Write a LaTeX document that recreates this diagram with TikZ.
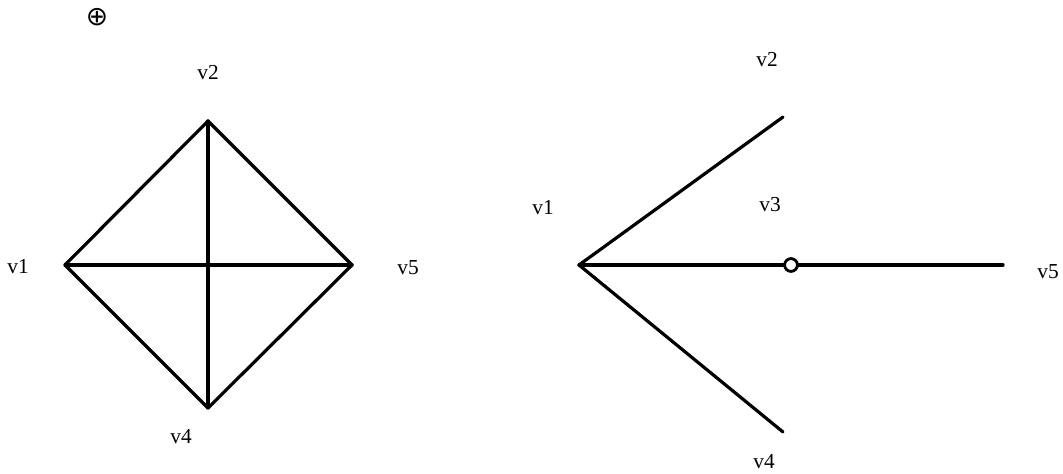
\documentclass[tikz,border=0pt]{standalone}
\usepackage{fontspec}
\setmainfont{Liberation Serif}
\newfontfamily\symfont{DejaVu Sans}
\begin{document}
\begin{tikzpicture}[x=0.75pt,y=-0.75pt,
  edge/.style={line width=2.4pt,line cap=round,line join=round},
  lbl/.style={font=\fontsize{16}{18}\selectfont,inner sep=0pt},
  vtx/.style={circle,draw,line width=2pt,fill=white,minimum size=9.5pt,inner sep=0pt}]
\useasboundingbox (0,0) rectangle (1063,474);
\fill[white] (0,0) rectangle (1063,474);
\clip (0,0) rectangle (1063,474);
% left diamond
\coordinate (a1) at (65,265);
\coordinate (a2) at (208,121);
\coordinate (a5) at (352,265);
\coordinate (a4) at (208,408);
\draw[edge] (a1) -- (a2) -- (a5) -- (a4) -- cycle;
\draw[edge] (a1) -- (a5);
\draw[edge] (a2) -- (a4);
\node[inner sep=0pt,text height=12pt,text depth=0pt,anchor=base] (plus) at (97,26) {\symfont\fontsize{20}{21}\selectfont ⊕};
\node[lbl] (l2) at (208,73) {v2};
\node[lbl] (l1) at (18,267) {v1};
\node[lbl] (l5) at (408,268) {v5};
\node[lbl] (l4) at (181,437) {v4};
% right graph
\coordinate (b1) at (579,265);
\coordinate (b2) at (783,117);
\coordinate (b4) at (783,432);
\coordinate (b5) at (1003,265);
\node[vtx] (b3) at (791,265) {};
\draw[edge] (b1) -- (b2);
\draw[edge] (b1) -- (b4);
\draw[edge] (b1) -- (b3) -- (b5);
\node[vtx] at (791,265) {};
\node[lbl] (r2) at (767,60) {v2};
\node[lbl] (r1) at (543,208) {v1};
\node[lbl] (r3) at (770,205) {v3};
\node[lbl] (r5) at (1048,272) {v5};
\node[lbl] (r4) at (764,462) {v4};
\end{tikzpicture}
\end{document}
